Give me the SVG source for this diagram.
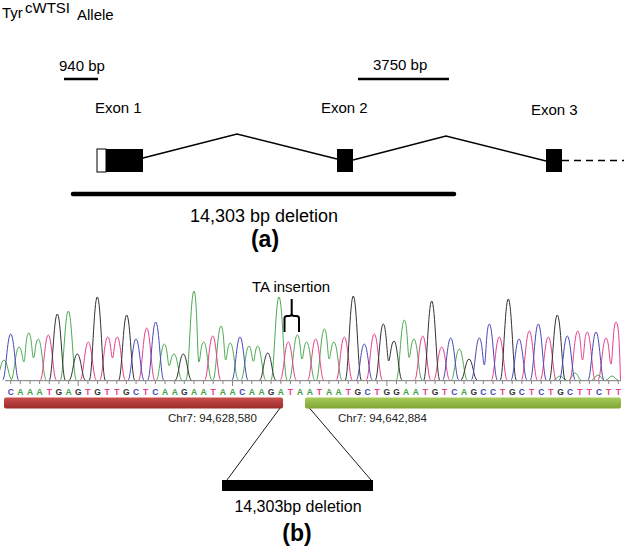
<svg xmlns="http://www.w3.org/2000/svg" width="624" height="549" viewBox="0 0 624 549">
<style>
text{font-family:"Liberation Sans",Arial,sans-serif;fill:#000}
.lbl{font-size:15px}
.big{font-size:16px}
.bigA{font-size:18px}
.tag{font-size:23px;font-weight:bold}
.chr{font-size:11.5px;fill:#222}
.seq{font-size:8.5px;font-weight:bold}
.tr{fill:none;stroke-width:1;stroke-linejoin:round}
.g{stroke:#4daa52}.t{stroke:#e8408a}.k{stroke:#333}.b{stroke:#4848b8}
.intron{fill:none;stroke:#000;stroke-width:1.3}
</style>
<defs>
<linearGradient id="gr" x1="0" y1="0" x2="0" y2="1"><stop offset="0" stop-color="#c9504c"/><stop offset="1" stop-color="#9c2b2a"/></linearGradient>
<linearGradient id="gg" x1="0" y1="0" x2="0" y2="1"><stop offset="0" stop-color="#a8cb5c"/><stop offset="1" stop-color="#7ea532"/></linearGradient>
</defs>
<rect width="624" height="549" fill="#fff"/>

<g id="title">
<text class="lbl" x="2" y="18">Tyr</text>
<text class="lbl" x="25" y="12.5">cWTSI</text>
<text class="lbl" x="77" y="20">Allele</text>
</g>

<g id="scalebars">
<text class="lbl" x="59" y="70.5">940 bp</text>
<line x1="64" y1="79" x2="98" y2="79" stroke="#000" stroke-width="2.5"/>
<text class="lbl" x="373" y="70">3750 bp</text>
<line x1="358" y1="79" x2="449" y2="79" stroke="#000" stroke-width="2.5"/>
</g>

<g id="exon1">
<text class="lbl" x="95" y="113">Exon 1</text>
<rect x="97" y="149" width="9" height="23" fill="#fff" stroke="#000" stroke-width="1"/>
<rect x="106" y="149" width="37" height="23" fill="#000"/>
</g>
<g id="exon2">
<text class="lbl" x="321" y="113">Exon 2</text>
<rect x="337" y="149" width="16" height="23" fill="#000"/>
</g>
<g id="exon3">
<text class="lbl" x="531" y="115">Exon 3</text>
<rect x="546" y="149" width="16" height="23" fill="#000"/>
</g>

<g id="connectors">
<polyline class="intron" points="143,158 237,134 337,159"/>
<polyline class="intron" points="353,160 446,136 546,161"/>
<line x1="562" y1="160.5" x2="624" y2="160.5" stroke="#000" stroke-width="1.3" stroke-dasharray="7,5"/>
<line x1="283" y1="404" x2="227" y2="480" stroke="#000" stroke-width="0.9"/>
<line x1="306" y1="404" x2="371" y2="480" stroke="#000" stroke-width="0.9"/>
</g>

<g id="deletion-a">
<line x1="73" y1="194" x2="454" y2="194" stroke="#000" stroke-width="4.5" stroke-linecap="round"/>
<text class="bigA" x="264" y="222" text-anchor="middle">14,303 bp deletion</text>
<text class="tag" x="265" y="247" text-anchor="middle">(a)</text>
</g>

<g id="chromatogram">
<line x1="5" y1="380.7" x2="621" y2="380.7" stroke="#555" stroke-width="0.8"/>
<path class="tr g" d="M-4 380 C-1 380 0.5 360 4 360 C7.5 360 9 380 12 380
M11 380 C14 380 15.5 347 19 347 C22 347 22.4 362 23.85 362 C25.3 362 25.7 333 28.7 333 C31.7 333 32 358 33.5 358 C35 358 35.3 339 38.3 339 C41.8 339 43.3 380 46.3 380
M60.3 380 C63.3 380 64.8 311 68.3 311 C71.8 311 73.3 380 76.3 380
M156.3 380 C159.3 380 160.8 344 164.3 344 C167.3 344 167.7 365.7 169.15 365.7 C170.6 365.7 171 354 174 354 C177.5 354 179 380 182 380
M186 380 C189 380 190.5 291 194 291 C197 291 197.4 362 198.85 362 C200.3 362 200.7 342 203.7 342 C207.2 342 208.7 380 211.7 380
M213 380 C216 380 217.5 326 221 326 C224 326 224.2 360 225.65 360 C227.1 360 227.3 343 230.3 343 C233.8 343 235.3 380 238.3 380
M241 380 C244 380 245.5 346 249 346 C251.5 346 251.9 361.3 253.35 361.3 C254.8 361.3 255.2 346 257.7 346 C261.2 346 262.7 380 265.7 380
M271 380 C274 380 275.5 297 279 297 C282.5 297 284 380 287 380
M289.3 380 C292.3 380 293.8 335 297.3 335 C300.3 335 300.5 359 302 359 C303.5 359 303.7 342 306.7 342 C310.2 342 311.7 380 314.7 380
M316.3 380 C319.3 380 320.8 329 324.3 329 C327.3 329 327.7 359 329.15 359 C330.6 359 331 342 334 342 C337.5 342 339 380 342 380
M396.3 380 C399.3 380 400.8 320 404.3 320 C407.3 320 407.7 357.5 409.15 357.5 C410.6 357.5 411 339 414 339 C417.5 339 419 380 422 380
M451.3 380 C454.3 380 455.8 349 459.3 349 C462.8 349 464.3 380 467.3 380
M554 380 C556 380 557.5 376 560 376 C562.5 376 564 380 566 380
M569 380 C571 380 572.5 373 575 373 C577.5 373 579 380 581 380
M592 380 C594 380 595.5 375 598 375 C600.5 375 602 380 604 380
M606 380 C608 380 609.5 376 612 376 C614.5 376 616 380 618 380"/>
<path class="tr t" d="M40.3 380 C43.3 380 44.8 335 48.3 335 C51.8 335 53.3 380 56.3 380
M80.3 380 C83.3 380 84.8 342 88.3 342 C91.8 342 93.3 380 96.3 380
M99.7 380 C102.7 380 104.2 337 107.7 337 C110.7 337 111 358 112.5 358 C114 358 114.3 337 117.3 337 C120.8 337 122.3 380 125.3 380
M138.7 380 C141.7 380 143.2 328 146.7 328 C150.2 328 151.7 380 154.7 380
M204.7 380 C207.7 380 209.2 336 212.7 336 C216.2 336 217.7 380 220.7 380
M280.3 380 C283.3 380 284.8 342 288.3 342 C291.8 342 293.3 380 296.3 380
M307.7 380 C310.7 380 312.2 339 315.7 339 C319.2 339 320.7 380 323.7 380
M336.3 380 C339.3 380 340.8 337 344.3 337 C347.8 337 349.3 380 352.3 380
M366.3 380 C369.3 380 370.8 334 374.3 334 C377.8 334 379.3 380 382.3 380
M414.7 380 C417.7 380 419.2 336 422.7 336 C426.2 336 427.7 380 430.7 380
M433.7 380 C436.7 380 438.2 347 441.7 347 C445.2 347 446.7 380 449.7 380
M491.3 380 C494.3 380 495.8 337 499.3 337 C502.8 337 504.3 380 507.3 380
M521.3 380 C524.3 380 525.8 331 529.3 331 C532.8 331 534.3 380 537.3 380
M540.3 380 C543.3 380 544.8 337 548.3 337 C551.8 337 553.3 380 556.3 380
M569.7 380 C572.7 380 574.2 331 577.7 331 C580.7 331 581 360 582.5 360 C584 360 584.3 332 587.3 332 C590.8 332 592.3 380 595.3 380
M598 380 C601 380 602.5 338 606 338 C609 338 609.5 364 611 364 C612.5 364 613 322 616 322 C619 322 619.5 350 620.5 380"/>
<path class="tr k" d="M49.3 380 C52.3 380 53.8 314 57.3 314 C60.8 314 62.3 380 65.3 380
M69.3 380 C72.3 380 73.8 354 77.3 354 C80.8 354 82.3 380 85.3 380
M89.3 380 C92.3 380 93.8 297 97.3 297 C100.8 297 102.3 380 105.3 380
M118.7 380 C121.7 380 123.2 315 126.7 315 C130.2 315 131.7 380 134.7 380
M175.3 380 C178.3 380 179.8 354 183.3 354 C186.8 354 188.3 380 191.3 380
M259.7 380 C262.7 380 264.2 353 267.7 353 C271.2 353 272.7 380 275.7 380
M345.3 380 C348.3 380 349.8 296 353.3 296 C356.8 296 358.3 380 361.3 380
M375.3 380 C378.3 380 379.8 324 383.3 324 C386.3 324 387.2 361 388.65 361 C390.1 361 391 341 394 341 C397.5 341 399 380 402 380
M423.7 380 C426.7 380 428.2 301 431.7 301 C435.2 301 436.7 380 439.7 380
M461 380 C464 380 465.5 359 469 359 C472.5 359 474 380 477 380
M500.3 380 C503.3 380 504.8 299 508.3 299 C511.8 299 513.3 380 516.3 380
M549.3 380 C552.3 380 553.8 315 557.3 315 C560.8 315 562.3 380 565.3 380"/>
<path class="tr b" d="M2.7 380 C5.7 380 7.2 334 10.7 334 C14.2 334 15.7 380 18.7 380
M128 380 C131 380 132.5 339 136 339 C139.5 339 141 380 144 380
M147.7 380 C150.7 380 152.2 322 155.7 322 C159.2 322 160.7 380 163.7 380
M232 380 C235 380 236.5 337 240 337 C243.5 337 245 380 248 380
M356.3 380 C359.3 380 360.8 344 364.3 344 C367.8 344 369.3 380 372.3 380
M442.7 380 C445.7 380 447.2 338 450.7 338 C454.2 338 455.7 380 458.7 380
M471.3 380 C474.3 380 475.8 338 479.3 338 C482.3 338 482.8 365 484.3 365 C485.8 365 486.3 324 489.3 324 C492.8 324 494.3 380 497.3 380
M511 380 C514 380 515.5 339 519 339 C522.5 339 524 380 527 380
M530.3 380 C533.3 380 534.8 324 538.3 324 C541.8 324 543.3 380 546.3 380
M559.3 380 C562.3 380 563.8 336 567.3 336 C570.8 336 572.3 380 575.3 380
M588 380 C591 380 592.5 332 596 332 C599.5 332 601 380 604 380"/>
<path stroke="#555" stroke-width="0.7" fill="none" d="M10.7 381V384M20.3 381V384M30 381V384M39.6 381V384M49.3 381V384M58.9 381V384M68.6 381V384M78.2 381V386M87.9 381V384M97.5 381V384M107.2 381V384M116.8 381V384M126.4 381V384M136.1 381V384M145.7 381V384M155.4 381V384M165 381V384M174.7 381V384M184.3 381V384M194 381V384M203.6 381V384M213.2 381V384M222.9 381V384M232.5 381V386M242.2 381V384M251.8 381V384M261.5 381V384M271.1 381V384M280.8 381V384M290.4 381V384M300.1 381V384M309.7 381V384M319.3 381V384M329 381V384M338.6 381V384M348.3 381V384M357.9 381V384M367.6 381V384M377.2 381V384M386.9 381V386M396.5 381V384M406.1 381V384M415.8 381V384M425.4 381V384M435.1 381V384M444.7 381V384M454.4 381V384M464 381V384M473.7 381V384M483.3 381V384M493 381V384M502.6 381V384M512.2 381V384M521.9 381V384M531.5 381V384M541.2 381V384M550.8 381V384M560.5 381V384M570.1 381V384M579.8 381V384M589.4 381V384M599 381V384M608.7 381V384M618.3 381V384"/>
<text class="seq" y="395" text-anchor="middle" x="10.7 20.3 30 39.6 49.3 58.9 68.6 78.2 87.9 97.5 107.2 116.8 126.4 136.1 145.7 155.4 165 174.7 184.3 194 203.6 213.2 222.9 232.5 242.2 251.8 261.5 271.1 280.8 290.4 300.1 309.7 319.3 329 338.6 348.3 357.9 367.6 377.2 386.9 396.5 406.1 415.8 425.4 435.1 444.7 454.4 464 473.7 483.3 493 502.6 512.2 521.9 531.5 541.2 550.8 560.5 570.1 579.8 589.4 599 608.7 618.3"><tspan fill="#4848b8">C</tspan><tspan fill="#3f9e46">AAA</tspan><tspan fill="#e8408a">T</tspan><tspan fill="#333">G</tspan><tspan fill="#3f9e46">A</tspan><tspan fill="#333">G</tspan><tspan fill="#e8408a">T</tspan><tspan fill="#333">G</tspan><tspan fill="#e8408a">TT</tspan><tspan fill="#333">G</tspan><tspan fill="#4848b8">C</tspan><tspan fill="#e8408a">T</tspan><tspan fill="#4848b8">C</tspan><tspan fill="#3f9e46">AA</tspan><tspan fill="#333">G</tspan><tspan fill="#3f9e46">AA</tspan><tspan fill="#e8408a">T</tspan><tspan fill="#3f9e46">AA</tspan><tspan fill="#4848b8">C</tspan><tspan fill="#3f9e46">AA</tspan><tspan fill="#333">G</tspan><tspan fill="#3f9e46">A</tspan><tspan fill="#e8408a">T</tspan><tspan fill="#3f9e46">AA</tspan><tspan fill="#e8408a">T</tspan><tspan fill="#3f9e46">AA</tspan><tspan fill="#e8408a">T</tspan><tspan fill="#333">G</tspan><tspan fill="#4848b8">C</tspan><tspan fill="#e8408a">T</tspan><tspan fill="#333">GG</tspan><tspan fill="#3f9e46">AA</tspan><tspan fill="#e8408a">T</tspan><tspan fill="#333">G</tspan><tspan fill="#e8408a">T</tspan><tspan fill="#4848b8">C</tspan><tspan fill="#3f9e46">A</tspan><tspan fill="#333">G</tspan><tspan fill="#4848b8">CC</tspan><tspan fill="#e8408a">T</tspan><tspan fill="#333">G</tspan><tspan fill="#4848b8">C</tspan><tspan fill="#e8408a">T</tspan><tspan fill="#4848b8">C</tspan><tspan fill="#e8408a">T</tspan><tspan fill="#333">G</tspan><tspan fill="#4848b8">C</tspan><tspan fill="#e8408a">TT</tspan><tspan fill="#4848b8">C</tspan><tspan fill="#e8408a">TT</tspan></text>
</g>

<g id="ta-insertion">
<text class="lbl" x="252" y="292">TA insertion</text>
<path d="M291.7 299V313.5Q291.7 316 289 316H287Q284.5 316 284.5 318.5V332M291.7 313.5Q291.7 316 294.4 316H296.5Q299 316 299 318.5V332" fill="none" stroke="#000" stroke-width="2"/>
</g>

<g id="flank-left">
<rect x="4" y="397.5" width="279" height="11" rx="2" fill="url(#gr)"/>
<text class="chr" x="168" y="422">Chr7: 94,628,580</text>
</g>
<g id="flank-right">
<rect x="305" y="397.5" width="316" height="11" rx="2" fill="url(#gg)"/>
<text class="chr" x="338" y="422">Chr7: 94,642,884</text>
</g>

<g id="deletion-b">
<rect x="222" y="480" width="151" height="11" fill="#000"/>
<text class="big" x="298" y="512" text-anchor="middle">14,303bp deletion</text>
<text class="tag" x="297" y="541" text-anchor="middle">(b)</text>
</g>
</svg>
